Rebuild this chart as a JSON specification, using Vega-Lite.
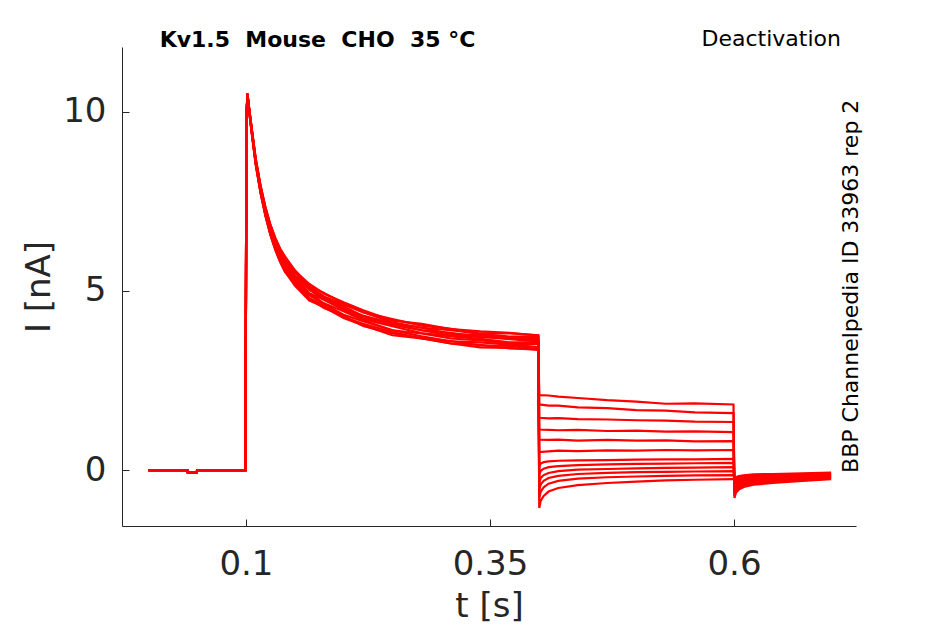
{
  "$schema": "https://vega.github.io/schema/vega-lite/v6.json",
  "description": "Kv1.5 deactivation current traces",
  "width": 734,
  "height": 479,
  "autosize": {"type": "none"},
  "padding": {"left": 122, "top": 47, "right": 89, "bottom": 98},
  "config": {"view": {"stroke": null}, "font": "DejaVu Sans"},
  "layer": [
    {
      "data": {
        "values": [
          {"s":1,"t":0,"i":0},{"s":1,"t":0.04,"i":0},{"s":1,"t":0.0405,"i":-0.07},{"s":1,"t":0.0495,"i":-0.07},{"s":1,"t":0.05,"i":0},{"s":1,"t":0.0995,"i":0},
          {"s":1,"t":0.1005,"i":9.81},{"s":1,"t":0.1015,"i":10.5},{"s":1,"t":0.103,"i":10.13},{"s":1,"t":0.106,"i":9.47},{"s":1,"t":0.11,"i":8.64},{"s":1,"t":0.115,"i":7.87},{"s":1,"t":0.12,"i":7.26},{"s":1,"t":0.125,"i":6.77},{"s":1,"t":0.13,"i":6.38},{"s":1,"t":0.135,"i":6.07},
          {"s":1,"t":0.14,"i":5.84},{"s":1,"t":0.15,"i":5.43},{"s":1,"t":0.165,"i":5.08},{"s":1,"t":0.18,"i":4.81},{"s":1,"t":0.2,"i":4.57},{"s":1,"t":0.22,"i":4.29},{"s":1,"t":0.25,"i":4.09},{"s":1,"t":0.28,"i":3.97},{"s":1,"t":0.31,"i":3.8},{"s":1,"t":0.34,"i":3.76},{"s":1,"t":0.37,"i":3.68},{"s":1,"t":0.3995,"i":3.68},
          {"s":1,"t":0.4005,"i":2.09},{"s":1,"t":0.41,"i":2.08},{"s":1,"t":0.42,"i":2.05},{"s":1,"t":0.44,"i":2.01},{"s":1,"t":0.47,"i":1.95},{"s":1,"t":0.5,"i":1.91},{"s":1,"t":0.53,"i":1.85},{"s":1,"t":0.56,"i":1.86},{"s":1,"t":0.5995,"i":1.83},
          {"s":1,"t":0.6005,"i":-0.78},{"s":1,"t":0.602,"i":-0.63},{"s":1,"t":0.605,"i":-0.54},{"s":1,"t":0.61,"i":-0.47},{"s":1,"t":0.62,"i":-0.41},{"s":1,"t":0.64,"i":-0.36},{"s":1,"t":0.67,"i":-0.3},{"s":1,"t":0.6995,"i":-0.25},

          {"s":2,"t":0,"i":0},{"s":2,"t":0.04,"i":0},{"s":2,"t":0.0405,"i":-0.07},{"s":2,"t":0.0495,"i":-0.07},{"s":2,"t":0.05,"i":0},{"s":2,"t":0.0995,"i":0},
          {"s":2,"t":0.1005,"i":9.79},{"s":2,"t":0.1015,"i":10.46},{"s":2,"t":0.103,"i":10.08},{"s":2,"t":0.106,"i":9.4},{"s":2,"t":0.11,"i":8.54},{"s":2,"t":0.115,"i":7.75},{"s":2,"t":0.12,"i":7.11},{"s":2,"t":0.125,"i":6.6},{"s":2,"t":0.13,"i":6.18},{"s":2,"t":0.135,"i":5.85},
          {"s":2,"t":0.14,"i":5.55},{"s":2,"t":0.15,"i":5.23},{"s":2,"t":0.165,"i":4.79},{"s":2,"t":0.18,"i":4.59},{"s":2,"t":0.2,"i":4.27},{"s":2,"t":0.22,"i":4.08},{"s":2,"t":0.25,"i":3.85},{"s":2,"t":0.28,"i":3.67},{"s":2,"t":0.31,"i":3.6},{"s":2,"t":0.34,"i":3.48},{"s":2,"t":0.37,"i":3.46},{"s":2,"t":0.3995,"i":3.38},
          {"s":2,"t":0.4005,"i":1.83},{"s":2,"t":0.41,"i":1.8},{"s":2,"t":0.42,"i":1.8},{"s":2,"t":0.44,"i":1.75},{"s":2,"t":0.47,"i":1.73},{"s":2,"t":0.5,"i":1.67},{"s":2,"t":0.53,"i":1.66},{"s":2,"t":0.56,"i":1.61},{"s":2,"t":0.5995,"i":1.59},
          {"s":2,"t":0.6005,"i":-0.72},{"s":2,"t":0.602,"i":-0.58},{"s":2,"t":0.605,"i":-0.5},{"s":2,"t":0.61,"i":-0.44},{"s":2,"t":0.62,"i":-0.38},{"s":2,"t":0.64,"i":-0.33},{"s":2,"t":0.67,"i":-0.28},{"s":2,"t":0.6995,"i":-0.23},

          {"s":3,"t":0,"i":0},{"s":3,"t":0.04,"i":0},{"s":3,"t":0.0405,"i":-0.07},{"s":3,"t":0.0495,"i":-0.07},{"s":3,"t":0.05,"i":0},{"s":3,"t":0.0995,"i":0},
          {"s":3,"t":0.1005,"i":9.82},{"s":3,"t":0.1015,"i":10.51},{"s":3,"t":0.103,"i":10.15},{"s":3,"t":0.106,"i":9.5},{"s":3,"t":0.11,"i":8.68},{"s":3,"t":0.115,"i":7.92},{"s":3,"t":0.12,"i":7.32},{"s":3,"t":0.125,"i":6.84},{"s":3,"t":0.13,"i":6.46},{"s":3,"t":0.135,"i":6.16},
          {"s":3,"t":0.14,"i":5.93},{"s":3,"t":0.15,"i":5.58},{"s":3,"t":0.165,"i":5.13},{"s":3,"t":0.18,"i":4.94},{"s":3,"t":0.2,"i":4.65},{"s":3,"t":0.22,"i":4.4},{"s":3,"t":0.25,"i":4.21},{"s":3,"t":0.28,"i":4.03},{"s":3,"t":0.31,"i":3.94},{"s":3,"t":0.34,"i":3.81},{"s":3,"t":0.37,"i":3.81},{"s":3,"t":0.3995,"i":3.76},
          {"s":3,"t":0.4005,"i":1.46},{"s":3,"t":0.41,"i":1.44},{"s":3,"t":0.42,"i":1.45},{"s":3,"t":0.44,"i":1.42},{"s":3,"t":0.47,"i":1.41},{"s":3,"t":0.5,"i":1.39},{"s":3,"t":0.53,"i":1.38},{"s":3,"t":0.56,"i":1.35},{"s":3,"t":0.5995,"i":1.34},
          {"s":3,"t":0.6005,"i":-0.66},{"s":3,"t":0.602,"i":-0.54},{"s":3,"t":0.605,"i":-0.46},{"s":3,"t":0.61,"i":-0.4},{"s":3,"t":0.62,"i":-0.35},{"s":3,"t":0.64,"i":-0.31},{"s":3,"t":0.67,"i":-0.26},{"s":3,"t":0.6995,"i":-0.22},

          {"s":4,"t":0,"i":0},{"s":4,"t":0.04,"i":0},{"s":4,"t":0.0405,"i":-0.07},{"s":4,"t":0.0495,"i":-0.07},{"s":4,"t":0.05,"i":0},{"s":4,"t":0.0995,"i":0},
          {"s":4,"t":0.1005,"i":9.8},{"s":4,"t":0.1015,"i":10.47},{"s":4,"t":0.103,"i":10.1},{"s":4,"t":0.106,"i":9.43},{"s":4,"t":0.11,"i":8.58},{"s":4,"t":0.115,"i":7.8},{"s":4,"t":0.12,"i":7.17},{"s":4,"t":0.125,"i":6.67},{"s":4,"t":0.13,"i":6.26},{"s":4,"t":0.135,"i":5.94},
          {"s":4,"t":0.14,"i":5.7},{"s":4,"t":0.15,"i":5.29},{"s":4,"t":0.165,"i":4.92},{"s":4,"t":0.18,"i":4.65},{"s":4,"t":0.2,"i":4.43},{"s":4,"t":0.22,"i":4.18},{"s":4,"t":0.25,"i":3.9},{"s":4,"t":0.28,"i":3.81},{"s":4,"t":0.31,"i":3.67},{"s":4,"t":0.34,"i":3.62},{"s":4,"t":0.37,"i":3.52},{"s":4,"t":0.3995,"i":3.52},
          {"s":4,"t":0.4005,"i":1.13},{"s":4,"t":0.41,"i":1.12},{"s":4,"t":0.42,"i":1.11},{"s":4,"t":0.44,"i":1.12},{"s":4,"t":0.47,"i":1.09},{"s":4,"t":0.5,"i":1.1},{"s":4,"t":0.53,"i":1.07},{"s":4,"t":0.56,"i":1.08},{"s":4,"t":0.5995,"i":1.06},
          {"s":4,"t":0.6005,"i":-0.6},{"s":4,"t":0.602,"i":-0.49},{"s":4,"t":0.605,"i":-0.42},{"s":4,"t":0.61,"i":-0.37},{"s":4,"t":0.62,"i":-0.32},{"s":4,"t":0.64,"i":-0.28},{"s":4,"t":0.67,"i":-0.24},{"s":4,"t":0.6995,"i":-0.2},

          {"s":5,"t":0,"i":0},{"s":5,"t":0.04,"i":0},{"s":5,"t":0.0405,"i":-0.07},{"s":5,"t":0.0495,"i":-0.07},{"s":5,"t":0.05,"i":0},{"s":5,"t":0.0995,"i":0},
          {"s":5,"t":0.1005,"i":9.81},{"s":5,"t":0.1015,"i":10.49},{"s":5,"t":0.103,"i":10.12},{"s":5,"t":0.106,"i":9.46},{"s":5,"t":0.11,"i":8.62},{"s":5,"t":0.115,"i":7.85},{"s":5,"t":0.12,"i":7.23},{"s":5,"t":0.125,"i":6.74},{"s":5,"t":0.13,"i":6.34},{"s":5,"t":0.135,"i":6.03},
          {"s":5,"t":0.14,"i":5.76},{"s":5,"t":0.15,"i":5.42},{"s":5,"t":0.165,"i":5.03},{"s":5,"t":0.18,"i":4.75},{"s":5,"t":0.2,"i":4.51},{"s":5,"t":0.22,"i":4.24},{"s":5,"t":0.25,"i":4.05},{"s":5,"t":0.28,"i":3.9},{"s":5,"t":0.31,"i":3.75},{"s":5,"t":0.34,"i":3.72},{"s":5,"t":0.37,"i":3.65},{"s":5,"t":0.3995,"i":3.59},
          {"s":5,"t":0.4005,"i":0.85},{"s":5,"t":0.41,"i":0.84},{"s":5,"t":0.42,"i":0.85},{"s":5,"t":0.44,"i":0.82},{"s":5,"t":0.47,"i":0.84},{"s":5,"t":0.5,"i":0.82},{"s":5,"t":0.53,"i":0.83},{"s":5,"t":0.56,"i":0.8},{"s":5,"t":0.5995,"i":0.81},
          {"s":5,"t":0.6005,"i":-0.55},{"s":5,"t":0.602,"i":-0.45},{"s":5,"t":0.605,"i":-0.39},{"s":5,"t":0.61,"i":-0.34},{"s":5,"t":0.62,"i":-0.3},{"s":5,"t":0.64,"i":-0.26},{"s":5,"t":0.67,"i":-0.23},{"s":5,"t":0.6995,"i":-0.19},

          {"s":6,"t":0,"i":0},{"s":6,"t":0.04,"i":0},{"s":6,"t":0.0405,"i":-0.07},{"s":6,"t":0.0495,"i":-0.07},{"s":6,"t":0.05,"i":0},{"s":6,"t":0.0995,"i":0},
          {"s":6,"t":0.1005,"i":9.78},{"s":6,"t":0.1015,"i":10.45},{"s":6,"t":0.103,"i":10.07},{"s":6,"t":0.106,"i":9.38},{"s":6,"t":0.11,"i":8.52},{"s":6,"t":0.115,"i":7.72},{"s":6,"t":0.12,"i":7.08},{"s":6,"t":0.125,"i":6.56},{"s":6,"t":0.13,"i":6.14},{"s":6,"t":0.135,"i":5.8},
          {"s":6,"t":0.14,"i":5.54},{"s":6,"t":0.15,"i":5.15},{"s":6,"t":0.165,"i":4.73},{"s":6,"t":0.18,"i":4.55},{"s":6,"t":0.2,"i":4.24},{"s":6,"t":0.22,"i":4.04},{"s":6,"t":0.25,"i":3.76},{"s":6,"t":0.28,"i":3.67},{"s":6,"t":0.31,"i":3.53},{"s":6,"t":0.34,"i":3.42},{"s":6,"t":0.37,"i":3.41},{"s":6,"t":0.3995,"i":3.35},
          {"s":6,"t":0.4005,"i":0.5},{"s":6,"t":0.41,"i":0.52},{"s":6,"t":0.42,"i":0.54},{"s":6,"t":0.44,"i":0.53},{"s":6,"t":0.47,"i":0.55},{"s":6,"t":0.5,"i":0.54},{"s":6,"t":0.53,"i":0.56},{"s":6,"t":0.56,"i":0.55},{"s":6,"t":0.5995,"i":0.56},
          {"s":6,"t":0.6005,"i":-0.5},{"s":6,"t":0.602,"i":-0.41},{"s":6,"t":0.605,"i":-0.35},{"s":6,"t":0.61,"i":-0.31},{"s":6,"t":0.62,"i":-0.27},{"s":6,"t":0.64,"i":-0.24},{"s":6,"t":0.67,"i":-0.2},{"s":6,"t":0.6995,"i":-0.17},

          {"s":7,"t":0,"i":0},{"s":7,"t":0.04,"i":0},{"s":7,"t":0.0405,"i":-0.07},{"s":7,"t":0.0495,"i":-0.07},{"s":7,"t":0.05,"i":0},{"s":7,"t":0.0995,"i":0},
          {"s":7,"t":0.1005,"i":9.82},{"s":7,"t":0.1015,"i":10.5},{"s":7,"t":0.103,"i":10.14},{"s":7,"t":0.106,"i":9.49},{"s":7,"t":0.11,"i":8.66},{"s":7,"t":0.115,"i":7.9},{"s":7,"t":0.12,"i":7.29},{"s":7,"t":0.125,"i":6.81},{"s":7,"t":0.13,"i":6.42},{"s":7,"t":0.135,"i":6.12},
          {"s":7,"t":0.14,"i":5.85},{"s":7,"t":0.15,"i":5.52},{"s":7,"t":0.165,"i":5.11},{"s":7,"t":0.18,"i":4.84},{"s":7,"t":0.2,"i":4.62},{"s":7,"t":0.22,"i":4.4},{"s":7,"t":0.25,"i":4.12},{"s":7,"t":0.28,"i":3.97},{"s":7,"t":0.31,"i":3.9},{"s":7,"t":0.34,"i":3.8},{"s":7,"t":0.37,"i":3.72},{"s":7,"t":0.3995,"i":3.72},
          {"s":7,"t":0.4005,"i":0.1},{"s":7,"t":0.402,"i":0.18},{"s":7,"t":0.405,"i":0.22},{"s":7,"t":0.41,"i":0.24},{"s":7,"t":0.42,"i":0.26},{"s":7,"t":0.44,"i":0.27},{"s":7,"t":0.47,"i":0.28},{"s":7,"t":0.5,"i":0.29},{"s":7,"t":0.53,"i":0.3},{"s":7,"t":0.56,"i":0.3},{"s":7,"t":0.5995,"i":0.31},
          {"s":7,"t":0.6005,"i":-0.45},{"s":7,"t":0.602,"i":-0.37},{"s":7,"t":0.605,"i":-0.32},{"s":7,"t":0.61,"i":-0.28},{"s":7,"t":0.62,"i":-0.25},{"s":7,"t":0.64,"i":-0.22},{"s":7,"t":0.67,"i":-0.19},{"s":7,"t":0.6995,"i":-0.16},

          {"s":8,"t":0,"i":0},{"s":8,"t":0.04,"i":0},{"s":8,"t":0.0405,"i":-0.07},{"s":8,"t":0.0495,"i":-0.07},{"s":8,"t":0.05,"i":0},{"s":8,"t":0.0995,"i":0},
          {"s":8,"t":0.1005,"i":9.79},{"s":8,"t":0.1015,"i":10.47},{"s":8,"t":0.103,"i":10.09},{"s":8,"t":0.106,"i":9.41},{"s":8,"t":0.11,"i":8.56},{"s":8,"t":0.115,"i":7.77},{"s":8,"t":0.12,"i":7.14},{"s":8,"t":0.125,"i":6.63},{"s":8,"t":0.13,"i":6.22},{"s":8,"t":0.135,"i":5.89},
          {"s":8,"t":0.14,"i":5.63},{"s":8,"t":0.15,"i":5.22},{"s":8,"t":0.165,"i":4.87},{"s":8,"t":0.18,"i":4.63},{"s":8,"t":0.2,"i":4.33},{"s":8,"t":0.22,"i":4.15},{"s":8,"t":0.25,"i":3.9},{"s":8,"t":0.28,"i":3.73},{"s":8,"t":0.31,"i":3.59},{"s":8,"t":0.34,"i":3.56},{"s":8,"t":0.37,"i":3.5},{"s":8,"t":0.3995,"i":3.43},
          {"s":8,"t":0.4005,"i":-0.12},{"s":8,"t":0.402,"i":-0.02},{"s":8,"t":0.405,"i":0.04},{"s":8,"t":0.41,"i":0.08},{"s":8,"t":0.42,"i":0.11},{"s":8,"t":0.44,"i":0.14},{"s":8,"t":0.47,"i":0.16},{"s":8,"t":0.5,"i":0.17},{"s":8,"t":0.53,"i":0.18},{"s":8,"t":0.56,"i":0.19},{"s":8,"t":0.5995,"i":0.2},
          {"s":8,"t":0.6005,"i":-0.4},{"s":8,"t":0.602,"i":-0.33},{"s":8,"t":0.605,"i":-0.28},{"s":8,"t":0.61,"i":-0.25},{"s":8,"t":0.62,"i":-0.22},{"s":8,"t":0.64,"i":-0.19},{"s":8,"t":0.67,"i":-0.17},{"s":8,"t":0.6995,"i":-0.14},

          {"s":9,"t":0,"i":0},{"s":9,"t":0.04,"i":0},{"s":9,"t":0.0405,"i":-0.07},{"s":9,"t":0.0495,"i":-0.07},{"s":9,"t":0.05,"i":0},{"s":9,"t":0.0995,"i":0},
          {"s":9,"t":0.1005,"i":9.8},{"s":9,"t":0.1015,"i":10.48},{"s":9,"t":0.103,"i":10.11},{"s":9,"t":0.106,"i":9.44},{"s":9,"t":0.11,"i":8.6},{"s":9,"t":0.115,"i":7.82},{"s":9,"t":0.12,"i":7.2},{"s":9,"t":0.125,"i":6.7},{"s":9,"t":0.13,"i":6.3},{"s":9,"t":0.135,"i":5.98},
          {"s":9,"t":0.14,"i":5.69},{"s":9,"t":0.15,"i":5.36},{"s":9,"t":0.165,"i":4.93},{"s":9,"t":0.18,"i":4.75},{"s":9,"t":0.2,"i":4.47},{"s":9,"t":0.22,"i":4.21},{"s":9,"t":0.25,"i":4.01},{"s":9,"t":0.28,"i":3.82},{"s":9,"t":0.31,"i":3.73},{"s":9,"t":0.34,"i":3.66},{"s":9,"t":0.37,"i":3.56},{"s":9,"t":0.3995,"i":3.56},
          {"s":9,"t":0.4005,"i":-0.35},{"s":9,"t":0.402,"i":-0.22},{"s":9,"t":0.405,"i":-0.14},{"s":9,"t":0.41,"i":-0.08},{"s":9,"t":0.42,"i":-0.03},{"s":9,"t":0.44,"i":0.01},{"s":9,"t":0.47,"i":0.03},{"s":9,"t":0.5,"i":0.05},{"s":9,"t":0.53,"i":0.06},{"s":9,"t":0.56,"i":0.07},{"s":9,"t":0.5995,"i":0.08},
          {"s":9,"t":0.6005,"i":-0.36},{"s":9,"t":0.602,"i":-0.3},{"s":9,"t":0.605,"i":-0.26},{"s":9,"t":0.61,"i":-0.23},{"s":9,"t":0.62,"i":-0.2},{"s":9,"t":0.64,"i":-0.18},{"s":9,"t":0.67,"i":-0.15},{"s":9,"t":0.6995,"i":-0.13},

          {"s":10,"t":0,"i":0},{"s":10,"t":0.04,"i":0},{"s":10,"t":0.0405,"i":-0.07},{"s":10,"t":0.0495,"i":-0.07},{"s":10,"t":0.05,"i":0},{"s":10,"t":0.0995,"i":0},
          {"s":10,"t":0.1005,"i":9.82},{"s":10,"t":0.1015,"i":10.51},{"s":10,"t":0.103,"i":10.15},{"s":10,"t":0.106,"i":9.51},{"s":10,"t":0.11,"i":8.69},{"s":10,"t":0.115,"i":7.93},{"s":10,"t":0.12,"i":7.33},{"s":10,"t":0.125,"i":6.85},{"s":10,"t":0.13,"i":6.48},{"s":10,"t":0.135,"i":6.18},
          {"s":10,"t":0.14,"i":5.96},{"s":10,"t":0.15,"i":5.56},{"s":10,"t":0.165,"i":5.19},{"s":10,"t":0.18,"i":4.92},{"s":10,"t":0.2,"i":4.68},{"s":10,"t":0.22,"i":4.46},{"s":10,"t":0.25,"i":4.17},{"s":10,"t":0.28,"i":4.08},{"s":10,"t":0.31,"i":3.93},{"s":10,"t":0.34,"i":3.87},{"s":10,"t":0.37,"i":3.83},{"s":10,"t":0.3995,"i":3.75},
          {"s":10,"t":0.4005,"i":-0.55},{"s":10,"t":0.402,"i":-0.4},{"s":10,"t":0.405,"i":-0.3},{"s":10,"t":0.41,"i":-0.22},{"s":10,"t":0.42,"i":-0.16},{"s":10,"t":0.44,"i":-0.11},{"s":10,"t":0.47,"i":-0.08},{"s":10,"t":0.5,"i":-0.06},{"s":10,"t":0.53,"i":-0.05},{"s":10,"t":0.56,"i":-0.04},{"s":10,"t":0.5995,"i":-0.03},
          {"s":10,"t":0.6005,"i":-0.32},{"s":10,"t":0.602,"i":-0.26},{"s":10,"t":0.605,"i":-0.23},{"s":10,"t":0.61,"i":-0.2},{"s":10,"t":0.62,"i":-0.17},{"s":10,"t":0.64,"i":-0.15},{"s":10,"t":0.67,"i":-0.13},{"s":10,"t":0.6995,"i":-0.11},

          {"s":11,"t":0,"i":0},{"s":11,"t":0.04,"i":0},{"s":11,"t":0.0405,"i":-0.07},{"s":11,"t":0.0495,"i":-0.07},{"s":11,"t":0.05,"i":0},{"s":11,"t":0.0995,"i":0},
          {"s":11,"t":0.1005,"i":9.78},{"s":11,"t":0.1015,"i":10.45},{"s":11,"t":0.103,"i":10.07},{"s":11,"t":0.106,"i":9.39},{"s":11,"t":0.11,"i":8.53},{"s":11,"t":0.115,"i":7.73},{"s":11,"t":0.12,"i":7.09},{"s":11,"t":0.125,"i":6.57},{"s":11,"t":0.13,"i":6.16},{"s":11,"t":0.135,"i":5.82},
          {"s":11,"t":0.14,"i":5.53},{"s":11,"t":0.15,"i":5.19},{"s":11,"t":0.165,"i":4.78},{"s":11,"t":0.18,"i":4.52},{"s":11,"t":0.2,"i":4.3},{"s":11,"t":0.22,"i":4.02},{"s":11,"t":0.25,"i":3.81},{"s":11,"t":0.28,"i":3.68},{"s":11,"t":0.31,"i":3.53},{"s":11,"t":0.34,"i":3.49},{"s":11,"t":0.37,"i":3.39},{"s":11,"t":0.3995,"i":3.37},
          {"s":11,"t":0.4005,"i":-0.78},{"s":11,"t":0.402,"i":-0.6},{"s":11,"t":0.405,"i":-0.48},{"s":11,"t":0.41,"i":-0.38},{"s":11,"t":0.42,"i":-0.3},{"s":11,"t":0.44,"i":-0.24},{"s":11,"t":0.47,"i":-0.2},{"s":11,"t":0.5,"i":-0.18},{"s":11,"t":0.53,"i":-0.16},{"s":11,"t":0.56,"i":-0.15},{"s":11,"t":0.5995,"i":-0.14},
          {"s":11,"t":0.6005,"i":-0.28},{"s":11,"t":0.602,"i":-0.23},{"s":11,"t":0.605,"i":-0.19},{"s":11,"t":0.61,"i":-0.17},{"s":11,"t":0.62,"i":-0.15},{"s":11,"t":0.64,"i":-0.13},{"s":11,"t":0.67,"i":-0.11},{"s":11,"t":0.6995,"i":-0.09},

          {"s":12,"t":0,"i":0},{"s":12,"t":0.04,"i":0},{"s":12,"t":0.0405,"i":-0.07},{"s":12,"t":0.0495,"i":-0.07},{"s":12,"t":0.05,"i":0},{"s":12,"t":0.0995,"i":0},
          {"s":12,"t":0.1005,"i":9.81},{"s":12,"t":0.1015,"i":10.49},{"s":12,"t":0.103,"i":10.13},{"s":12,"t":0.106,"i":9.46},{"s":12,"t":0.11,"i":8.63},{"s":12,"t":0.115,"i":7.86},{"s":12,"t":0.12,"i":7.25},{"s":12,"t":0.125,"i":6.76},{"s":12,"t":0.13,"i":6.36},{"s":12,"t":0.135,"i":6.05},
          {"s":12,"t":0.14,"i":5.83},{"s":12,"t":0.15,"i":5.41},{"s":12,"t":0.165,"i":5.03},{"s":12,"t":0.18,"i":4.82},{"s":12,"t":0.2,"i":4.5},{"s":12,"t":0.22,"i":4.31},{"s":12,"t":0.25,"i":4.08},{"s":12,"t":0.28,"i":3.9},{"s":12,"t":0.31,"i":3.83},{"s":12,"t":0.34,"i":3.71},{"s":12,"t":0.37,"i":3.69},{"s":12,"t":0.3995,"i":3.62},
          {"s":12,"t":0.4005,"i":-1.06},{"s":12,"t":0.402,"i":-0.85},{"s":12,"t":0.405,"i":-0.72},{"s":12,"t":0.41,"i":-0.6},{"s":12,"t":0.42,"i":-0.5},{"s":12,"t":0.44,"i":-0.42},{"s":12,"t":0.47,"i":-0.36},{"s":12,"t":0.5,"i":-0.32},{"s":12,"t":0.53,"i":-0.29},{"s":12,"t":0.56,"i":-0.27},{"s":12,"t":0.5995,"i":-0.25},
          {"s":12,"t":0.6005,"i":-0.25},{"s":12,"t":0.602,"i":-0.2},{"s":12,"t":0.605,"i":-0.17},{"s":12,"t":0.61,"i":-0.15},{"s":12,"t":0.62,"i":-0.12},{"s":12,"t":0.64,"i":-0.11},{"s":12,"t":0.67,"i":-0.09},{"s":12,"t":0.6995,"i":-0.07}
        ]
      },
      "mark": {"type": "line", "color": "#ff0000", "strokeWidth": 2.2},
      "encoding": {
        "x": {
          "field": "t",
          "type": "quantitative",
          "scale": {"domain": [-0.027, 0.725], "nice": false, "zero": false},
          "axis": {
            "values": [0.1, 0.35, 0.6],
            "format": "~g",
            "grid": false,
            "tickSize": -7,
            "tickColor": "#262626",
            "domainColor": "#262626",
            "labelFont": "DejaVu Sans",
            "labelFontSize": 34,
            "labelColor": "#262626",
            "labelPadding": 28,
            "title": "t [s]",
            "titleFont": "DejaVu Sans",
            "titleFontSize": 34,
            "titleFontWeight": "normal",
            "titleColor": "#262626",
            "titleBaseline": "alphabetic",
            "titleY": 90
          }
        },
        "y": {
          "field": "i",
          "type": "quantitative",
          "scale": {"domain": [-1.56, 11.8], "nice": false, "zero": false},
          "axis": {
            "values": [0, 5, 10],
            "grid": false,
            "tickSize": -7,
            "tickColor": "#262626",
            "domainColor": "#262626",
            "labelFont": "DejaVu Sans",
            "labelFontSize": 34,
            "labelColor": "#262626",
            "labelPadding": 23,
            "title": "I [nA]",
            "titleFont": "DejaVu Sans",
            "titleFontSize": 34,
            "titleFontWeight": "normal",
            "titleColor": "#262626",
            "titleBaseline": "alphabetic",
            "titleX": -73
          }
        },
        "detail": {"field": "s", "type": "nominal"}
      }
    },
    {
      "data": {"values": [{"label": "Kv1.5\u00a0 Mouse\u00a0 CHO\u00a0 35 °C"}]},
      "mark": {"type": "text", "font": "DejaVu Sans", "fontSize": 22, "fontWeight": "bold", "color": "#000000", "align": "center", "baseline": "alphabetic"},
      "encoding": {
        "x": {"datum": 0.1733, "type": "quantitative"},
        "y": {"datum": 11.81, "type": "quantitative"},
        "text": {"field": "label"}
      }
    },
    {
      "data": {"values": [{"label": "Deactivation"}]},
      "mark": {"type": "text", "font": "DejaVu Sans", "fontSize": 22, "color": "#000000", "align": "right", "baseline": "alphabetic"},
      "encoding": {
        "x": {"datum": 0.7096, "type": "quantitative"},
        "y": {"datum": 11.84, "type": "quantitative"},
        "text": {"field": "label"}
      }
    },
    {
      "data": {"values": [{"label": "BBP Channelpedia ID 33963 rep 2"}]},
      "mark": {"type": "text", "font": "DejaVu Sans", "fontSize": 22, "color": "#000000", "align": "center", "baseline": "alphabetic", "angle": 270},
      "encoding": {
        "x": {"datum": 0.727, "type": "quantitative"},
        "y": {"datum": 5.126, "type": "quantitative"},
        "text": {"field": "label"}
      }
    }
  ]
}
